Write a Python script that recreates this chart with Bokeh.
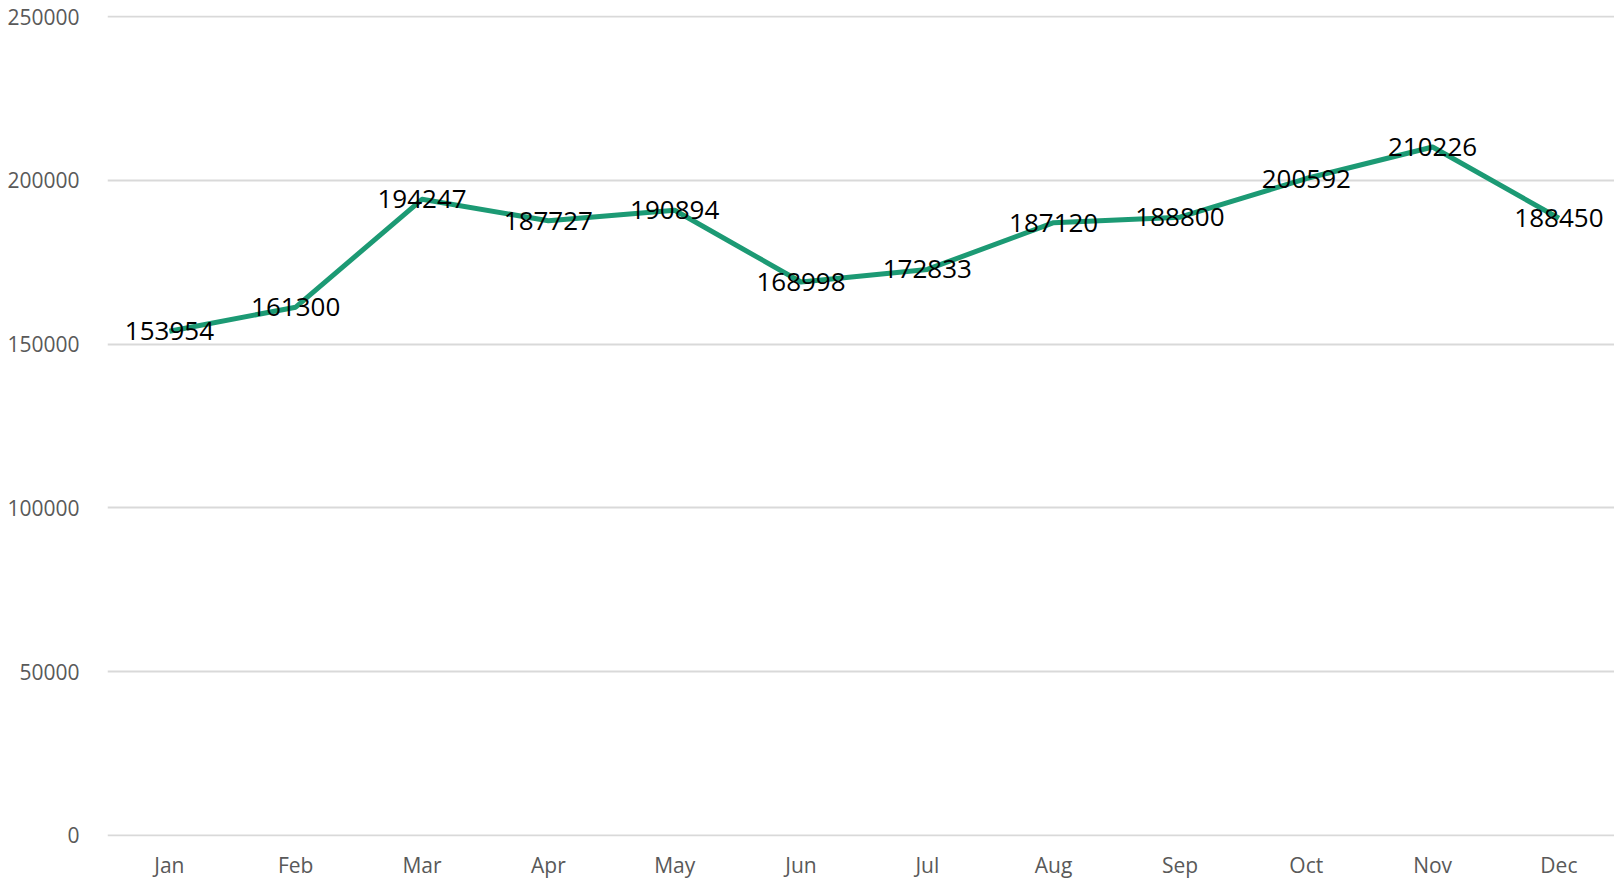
from bokeh.plotting import figure
from bokeh.models import ColumnDataSource, Range1d, FixedTicker
from bokeh.core.properties import value
from bokeh.embed import file_html
from bokeh.resources import INLINE

months = ["Jan", "Feb", "Mar", "Apr", "May", "Jun", "Jul", "Aug", "Sep", "Oct", "Nov", "Dec"]
sales = [153954, 161300, 194247, 187727, 190894, 168998, 172833, 187120, 188800, 200592, 210226, 188450]
y_ticks = [0, 50000, 100000, 150000, 200000, 250000]

xs = list(range(len(months)))
labels = [str(v) for v in sales]
src = ColumnDataSource(dict(x=xs, y=sales, label=labels))

p = figure(width=1614, height=881, output_backend="svg", toolbar_location=None,
           x_range=Range1d(-0.49, 11.44), y_range=Range1d(-400, 250400),
           min_border_left=107, min_border_right=0, min_border_top=15, min_border_bottom=0)
p.outline_line_color = None
p.background_fill_color = "white"
p.border_fill_color = "white"

p.line("x", "y", source=src, line_color="#1c9a74", line_width=5, line_join="round")
p.text("x", "y", text="label", source=src, text_align="center", text_baseline="middle",
       text_font=value("Open Sans"), text_font_size="26px", text_color="black")

p.xaxis.ticker = FixedTicker(ticks=xs)
p.xaxis.major_label_overrides = {i: m for i, m in enumerate(months)}
p.yaxis.ticker = FixedTicker(ticks=y_ticks)
p.yaxis.formatter.use_scientific = False
for ax in (p.xaxis, p.yaxis):
    ax.axis_line_color = None
    ax.major_tick_line_color = None
    ax.minor_tick_line_color = None
    ax.major_tick_out = 0
    ax.major_tick_in = 0
    ax.minor_tick_out = 0
    ax.minor_tick_in = 0
    ax.major_label_text_font = "Open Sans"
    ax.major_label_text_font_size = "21px"
    ax.major_label_text_color = "#595959"
p.yaxis.major_label_standoff = 28
p.xaxis.major_label_standoff = 14
p.xgrid.grid_line_color = None
p.ygrid.grid_line_color = "#d9d9d9"
p.ygrid.grid_line_width = 2

open("out.html", "w").write(file_html(p, INLINE))
